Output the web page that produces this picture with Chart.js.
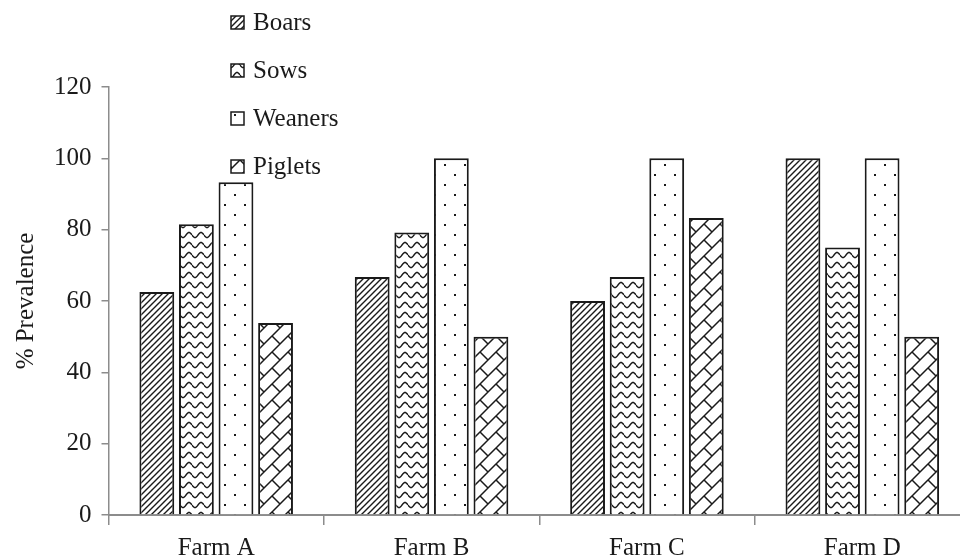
<!DOCTYPE html>
<html>
<head>
<meta charset="utf-8">
<script src="https://cdn.jsdelivr.net/npm/chart.js@4.4.1/dist/chart.umd.min.js"></script>
<style>
  html, body { margin: 0; padding: 0; background: #fff; overflow: hidden; }
  #wrap { width: 960px; height: 560px; overflow: hidden; }
</style>
</head>
<body>
<div id="wrap"><canvas id="chart" width="970" height="560"></canvas></div>
<script>
const farms = ["Farm A", "Farm B", "Farm C", "Farm D"];
const seriesNames = ["Boars", "Sows", "Weaners", "Piglets"];
const boars = [62.5, 66.7, 60, 100];
const sows = [81.5, 79.2, 66.7, 75];
const weaners = [93.3, 100, 100, 100];
const piglets = [53.8, 50, 83.3, 50];
const yTicks = [0, 20, 40, 60, 80, 100, 120];

const ink = "#1a1a1a";

// little tiles for the hatch fills
function tile(w, h, draw) {
    const c = document.createElement("canvas");
    c.width = w;
    c.height = h;
    const g = c.getContext("2d");
    g.fillStyle = "#fff";
    g.fillRect(0, 0, w, h);
    g.strokeStyle = ink;
    g.fillStyle = ink;
    draw(g);
    return g.createPattern(c, "repeat");
}

const diagFill = tile(6, 6, g => {
    g.lineWidth = 1.4;
    g.beginPath();
    g.moveTo(0, 6); g.lineTo(6, 0);
    g.moveTo(-1, 1); g.lineTo(1, -1);
    g.moveTo(5, 7); g.lineTo(7, 5);
    g.stroke();
});

const waveFill = tile(12, 10, g => {
    g.lineWidth = 1.5;
    g.beginPath();
    for (let x = 0; x <= 12; x += 0.5) {
        const y = 5 + 2.5 * Math.sin(x / 12 * Math.PI * 2);
        if (x === 0) g.moveTo(x, y); else g.lineTo(x, y);
    }
    g.stroke();
});

const dotFill = tile(20, 20, g => {
    g.fillRect(4, 4, 2, 2);
    g.fillRect(14, 14, 2, 2);
});

const brickFill = tile(16, 16, g => {
    g.lineWidth = 1.5;
    g.beginPath();
    g.moveTo(0, 16); g.lineTo(16, 0);
    g.moveTo(-1, 1); g.lineTo(1, -1);
    g.moveTo(15, 17); g.lineTo(17, 15);
    g.moveTo(0, 0); g.lineTo(8, 8);
    g.stroke();
});

const fills = [diagFill, waveFill, dotFill, brickFill];
const values = [boars, sows, weaners, piglets];

const serifFamily = "'Liberation Serif', 'DejaVu Serif', serif";
const serif = { family: serifFamily, size: 25 };

// legend sits inside the plot, top left, one entry per line
const stackedLegend = {
    id: "stackedLegend",
    afterDraw(chart) {
        const ctx = chart.ctx;
        ctx.save();
        ctx.font = "25px " + serifFamily;
        ctx.textBaseline = "middle";
        chart.data.datasets.forEach((ds, i) => {
            const y = 22 + i * 48;
            ctx.fillStyle = ds.backgroundColor;
            ctx.fillRect(231, y - 6, 13, 13);
            ctx.strokeStyle = ink;
            ctx.lineWidth = 1.5;
            ctx.strokeRect(231, y - 6, 13, 13);
            ctx.fillStyle = ink;
            ctx.fillText(ds.label, 253, y + 1);
        });
        ctx.restore();
    }
};

new Chart(document.getElementById("chart"), {
    type: "bar",
    data: {
        labels: farms,
        datasets: seriesNames.map((name, i) => ({
            label: name,
            data: values[i],
            backgroundColor: fills[i],
            borderColor: ink,
            borderWidth: 2,
            categoryPercentage: 0.735,
            barPercentage: 0.88
        }))
    },
    options: {
        responsive: false,
        animation: false,
        layout: { padding: { top: 87, right: 0, left: 0, bottom: 0 } },
        plugins: {
            legend: { display: false },
            tooltip: { enabled: false }
        },
        scales: {
            x: {
                afterFit: axis => { axis.height = 45; },
                grid: {
                    offset: true,
                    drawOnChartArea: false,
                    drawTicks: true,
                    tickLength: 10,
                    color: "#8c8c8c",
                    lineWidth: 1.5
                },
                border: { color: "#8c8c8c", width: 2 },
                ticks: { color: ink, font: serif, padding: 8 }
            },
            y: {
                min: 0,
                max: 120,
                afterBuildTicks: axis => { axis.ticks = yTicks.map(v => ({ value: v })); },
                grid: {
                    drawOnChartArea: false,
                    drawTicks: true,
                    tickLength: 7,
                    color: "#8c8c8c",
                    lineWidth: 1.5
                },
                border: { color: "#8c8c8c", width: 1.5 },
                ticks: { color: ink, font: serif, padding: 10 },
                title: {
                    display: true,
                    text: "% Prevalence",
                    color: ink,
                    font: serif,
                    padding: { top: 11, bottom: 3 }
                }
            }
        }
    },
    plugins: [stackedLegend]
});
</script>
</body>
</html>
